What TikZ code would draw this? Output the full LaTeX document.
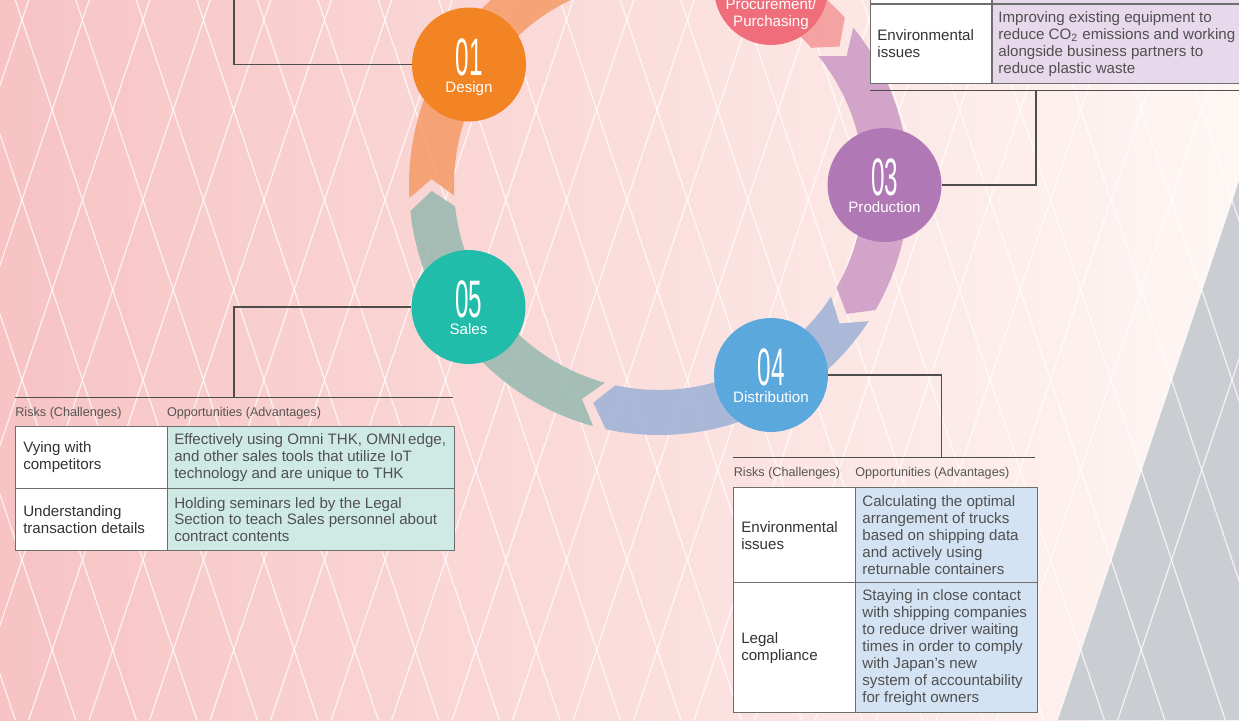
\documentclass[tikz,border=0pt]{standalone}
\usepackage{fontspec}
\setmainfont{Liberation Sans}
\usepackage{graphicx}
\usetikzlibrary{positioning}

\definecolor{bgLeft}{HTML}{F7C3C3}
\definecolor{bgMid}{HTML}{FBDBDA}
\definecolor{bgRight}{HTML}{FEF7F4}
\definecolor{greyTri}{HTML}{CACDD1}
\definecolor{designOrange}{HTML}{F38423}
\definecolor{procPink}{HTML}{F06E7B}
\definecolor{prodPurple}{HTML}{B078B4}
\definecolor{distBlue}{HTML}{5BA8DC}
\definecolor{salesTeal}{HTML}{22BCAB}
\definecolor{designBand}{HTML}{F59C69}
\definecolor{procBand}{HTML}{F59899}
\definecolor{prodBand}{HTML}{CC9BC5}
\definecolor{distBand}{HTML}{9FB2D6}
\definecolor{salesBand}{HTML}{98B9B0}
\definecolor{lineGrey}{HTML}{4D4D4D}
\definecolor{cellLine}{HTML}{6E6E6E}
\definecolor{mintCell}{HTML}{CFEAE4}
\definecolor{blueCell}{HTML}{D3E3F3}
\definecolor{lilacCell}{HTML}{E7D9EB}
\definecolor{riskText}{HTML}{333333}
\definecolor{oppText}{HTML}{505050}
\definecolor{headText}{HTML}{555555}

\newcommand{\stageNumSty}[1]{\scalebox{0.46}[1]{\fontsize{30}{30}\selectfont #1}}
\newcommand{\cellSty}{\fontsize{8.6}{9.64}\selectfont}
\newcommand{\headSty}{\fontsize{7.2}{8}\selectfont}
% colour, tail angle, head angle
\newcommand{\ringArrow}[3]{%
	\fill[band, #1] (#2:250) arc[start angle=#2, end angle=#3+3, radius=250]
		-- (#3-1.5:227.5) -- (#3+3:205) arc[start angle=#3+3, end angle=#2, radius=205]
		-- (#2-4.5:227.5) -- cycle;}

\begin{document}
\begin{tikzpicture}[x=0.02cm, y=-0.02cm,
		lattice/.style={white, opacity=0.75, line width=0.7pt},
		band/.style={fill opacity=0.87},
		stage/.style={circle, minimum size=2.28cm, inner sep=0pt},
		stageNum/.style={anchor=base, text=white, inner sep=0pt},
		stageLbl/.style={anchor=base, text=white, inner sep=0pt, font=\cellSty},
		link/.style={lineGrey, line width=0.8pt},
		riskCell/.style={draw=cellLine, line width=0.8pt, fill=white, anchor=north west, inner sep=0pt},
		oppCell/.style={draw=cellLine, line width=0.8pt, anchor=north west, inner sep=0pt},
		riskTxt/.style={anchor=west, align=left, inner sep=0pt, font=\cellSty, text=riskText},
		oppTxt/.style={anchor=west, align=left, inner sep=0pt, font=\cellSty, text=oppText},
		headTxt/.style={anchor=base west, inner sep=0pt, font=\headSty, text=headText}]

	\useasboundingbox (0,0) rectangle (1239,720);
	\clip (0,0) rectangle (1239,720);

	% background
	\shade[left color=bgLeft, middle color=bgMid, right color=bgRight] (0,0) rectangle (1239,720);
	\fill[greyTri] (1057.2,720) -- (1299.2,0) -- (1320,0) -- (1320,720) -- cycle;

	% diamonds
	\foreach \k in {-5,...,22}{
		\draw[lattice] (15.3+\k*60.5,0) -- (257.3+\k*60.5,720);
		\draw[lattice] (28.7+\k*60.5,0) -- (-213.3+\k*60.5,720);
	}

	% ring of arrows
	\begin{scope}[shift={(659,185)}, y=0.02cm]
		\ringArrow{salesBand}{254.7}{183}
		\ringArrow{designBand}{183}{103}
		\ringArrow{procBand}{103}{39}
		\ringArrow{prodBand}{39}{-33}
		\ringArrow{distBand}{-33}{-105.3}
	\end{scope}

	% stages
	\node[stage, fill=designOrange] (designStage) at (469,64.5) {};
	\node[stageNum] (designNum) at (469,75) {\stageNumSty{01}};
	\node[stageLbl] (designLbl) at (469,92) {Design};

	\node[stage, fill=procPink] (procStage) at (771,-12) {};
	\node[stageNum] (procNum) at (771,-8) {\stageNumSty{02}};
	\node[stageLbl, anchor=center, align=center] (procLbl) at (771,14.5) {Procurement/\\Purchasing};

	\node[stage, fill=prodPurple] (prodStage) at (884.5,185) {};
	\node[stageNum] (prodNum) at (884.5,195.5) {\stageNumSty{03}};
	\node[stageLbl] (prodLbl) at (884.5,212.5) {Production};

	\node[stage, fill=distBlue] (distStage) at (771,375) {};
	\node[stageNum] (distNum) at (771,385.5) {\stageNumSty{04}};
	\node[stageLbl] (distLbl) at (771,402.5) {Distribution};

	\node[stage, fill=salesTeal] (salesStage) at (468.5,307) {};
	\node[stageNum] (salesNum) at (468.5,317.5) {\stageNumSty{05}};
	\node[stageLbl] (salesLbl) at (468.5,334.5) {Sales};

	% leader lines
	\coordinate (designJoint) at (234,-5);
	\draw[link] (designJoint) |- (designStage.west);
	\coordinate (prodJoint) at (1036,90.7);
	\draw[link] (prodStage.east) -| (prodJoint);
	\coordinate (distJoint) at (941.7,457.3);
	\draw[link] (distStage.east) -| (distJoint);
	\coordinate (salesJoint) at (234,397.3);
	\draw[link] (salesStage.west) -| (salesJoint);

	\draw[link] (870,90.7) -- (1245,90.7);
	\draw[link] (733,457.3) -- (1035,457.3);
	\draw[link] (15,397.3) -- (453,397.3);

	% procurement table
	\node[riskCell, minimum width=2.43cm, minimum height=1.266cm] (procRisk0) at (870,-60) {};
	\node[oppCell, fill=lilacCell, minimum width=5.07cm, minimum height=1.266cm] (procOpp0) at (991.5,-60) {};
	\node[riskCell, minimum width=2.43cm, minimum height=1.588cm] (procRisk1) at (870,3.3) {};
	\node[oppCell, fill=lilacCell, minimum width=5.07cm, minimum height=1.588cm] (procOpp1) at (991.5,3.3) {};
	\node[riskTxt] (procRiskTxt1) at ([xshift=4pt]procRisk1.west) {Environmental\\issues};
	\node[oppTxt] (procOppTxt1) at ([xshift=3.7pt]procOpp1.west) {Improving existing equipment to\\reduce CO\textsubscript{2} emissions and working\\alongside business partners to\\reduce plastic waste};

	% distribution table
	\node[headTxt] (distRiskHead) at (733.5,476.5) {Risks (Challenges)};
	\node[headTxt] (distOppHead) at (855,476.5) {Opportunities (Advantages)};
	\node[riskCell, minimum width=2.44cm, minimum height=1.9cm] (distRisk1) at (733,487) {};
	\node[oppCell, fill=blueCell, minimum width=3.64cm, minimum height=1.9cm] (distOpp1) at (855,487) {};
	\node[riskCell, minimum width=2.44cm, minimum height=2.6cm] (distRisk2) at (733,582) {};
	\node[oppCell, fill=blueCell, minimum width=3.64cm, minimum height=2.6cm] (distOpp2) at (855,582) {};
	\node[riskTxt] (distRiskTxt1) at ([xshift=4.5pt]distRisk1.west) {Environmental\\issues};
	\node[oppTxt] (distOppTxt1) at ([xshift=4pt]distOpp1.west) {Calculating the optimal\\arrangement of trucks\\based on shipping data\\and actively using\\returnable containers};
	\node[riskTxt] (distRiskTxt2) at ([xshift=4.5pt]distRisk2.west) {Legal\\compliance};
	\node[oppTxt] (distOppTxt2) at ([xshift=4pt]distOpp2.west) {Staying in close contact\\with shipping companies\\to reduce driver waiting\\times in order to comply\\with Japan’s new\\system of accountability\\for freight owners};

	% sales table
	\node[headTxt] (salesRiskHead) at (15,416.5) {Risks (Challenges)};
	\node[headTxt] (salesOppHead) at (166.7,416.5) {Opportunities (Advantages)};
	\node[riskCell, minimum width=3.034cm, minimum height=1.234cm] (salesRisk1) at (15,426) {};
	\node[oppCell, fill=mintCell, minimum width=5.746cm, minimum height=1.234cm] (salesOpp1) at (166.7,426) {};
	\node[riskCell, minimum width=3.034cm, minimum height=1.246cm] (salesRisk2) at (15,487.7) {};
	\node[oppCell, fill=mintCell, minimum width=5.746cm, minimum height=1.246cm] (salesOpp2) at (166.7,487.7) {};
	\node[riskTxt] (salesRiskTxt1) at ([xshift=4.5pt]salesRisk1.west) {Vying with\\competitors};
	\node[oppTxt] (salesOppTxt1) at ([xshift=4.1pt]salesOpp1.west) {Effectively using Omni THK, OMNI\,edge,\\and other sales tools that utilize IoT\\technology and are unique to THK};
	\node[riskTxt] (salesRiskTxt2) at ([xshift=4.5pt]salesRisk2.west) {Understanding\\transaction details};
	\node[oppTxt] (salesOppTxt2) at ([xshift=4.1pt]salesOpp2.west) {Holding seminars led by the Legal\\Section to teach Sales personnel about\\contract contents};

\end{tikzpicture}
\end{document}
